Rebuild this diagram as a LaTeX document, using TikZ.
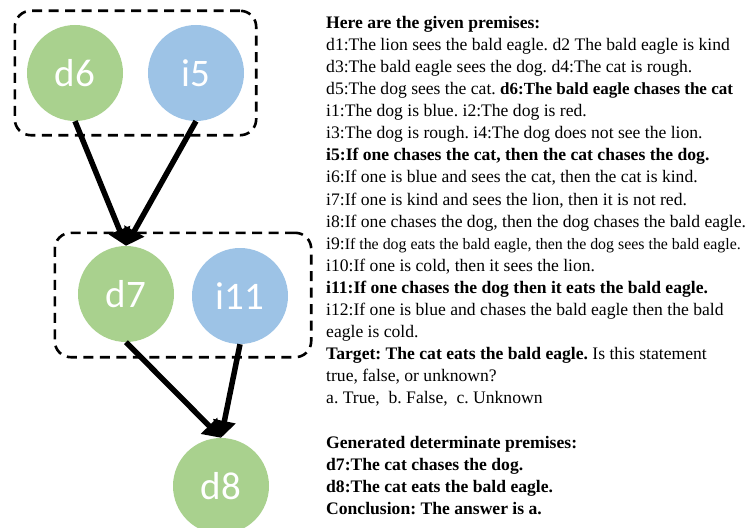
\documentclass[tikz,border=0pt]{standalone}
\usepackage{fontspec}
\setmainfont{Liberation Serif}
\newfontfamily\circfont{Carlito}
\usetikzlibrary{arrows.meta,positioning,fit,calc}
\definecolor{premGreen}{HTML}{A9D18E}
\definecolor{premBlue}{HTML}{9DC3E6}
\tikzset{
	prem/.style={circle,minimum size=96pt,inner sep=0pt,text=white,font=\circfont\fontsize{39}{39}\selectfont},
	detPrem/.style={prem,fill=premGreen},
	indPrem/.style={prem,fill=premBlue},
	group/.style={draw,line width=2.6pt,dash pattern=on 10pt off 6.5pt,rounded corners=16pt},
	infer/.style={line width=5.5pt,-{Triangle[length=17pt,width=22pt]}},
}

\begin{document}
\frenchspacing
\begin{tikzpicture}[x=1pt,y=-1pt]
	\useasboundingbox (0,0) rectangle (751,527);
	\node (d6) at (75,73) [detPrem] {d6};
	\node (i5) at (196,73) [indPrem] {i5};
	\node (d7) at (126,294) [detPrem] {d7};
	\node (i11) at (240,296) [indPrem] {i11};
	\node (d8) at (221,486) [detPrem] {d8};
	
	\node (g1) [group,fit=(d6)(i5),inner xsep=12pt,inner ysep=14pt] {};
	\node (g2) [group,fit=(d7)(i11),inner xsep=23pt,inner ysep=13pt] {};
	
	\draw[infer] (d6.south) -- (d7.north);
	\draw[infer] (i5.south) -- (d7.north);
	\draw[infer] (d7.south) -- (d8.north);
	\draw[infer] (i11.south) -- (d8.north);
	
	\node (txt) at (326,15.8) [anchor=north west,inner sep=0pt,align=left,font=\fontsize{17.6}{22.1}\selectfont] {%
		\textbf{Here are the given premises:}\\
		d1:The lion sees the bald eagle. d2 The bald eagle is kind\\
		d3:The bald eagle sees the dog. d4:The cat is rough.\\
		d5:The dog sees the cat. {\fontsize{17}{22.1}\selectfont\textbf{d6:The bald eagle chases the cat}}\\
		i1:The dog is blue. i2:The dog is red.\\
		i3:The dog is rough. i4:The dog does not see the lion.\\
		\textbf{i5:If one chases the cat, then the cat chases the dog.}\\
		i6:If one is blue and sees the cat, then the cat is kind.\\
		i7:If one is kind and sees the lion, then it is not red.\\
		i8:If one chases the dog, then the dog chases the bald eagle.\\
		i9:{\fontsize{15.9}{22.1}\selectfont If the dog eats the bald eagle, then the dog sees the bald eagle.}\\
		i10:If one is cold, then it sees the lion.\\
		\textbf{i11:If one chases the dog then it eats the bald eagle.}\\
		i12:If one is blue and chases the bald eagle then the bald\\
		eagle is cold.\\
		\textbf{Target: The cat eats the bald eagle.} Is this statement\\
		true, false, or unknown?\\
		a. True,\ \ b. False,\ \ c. Unknown\\
		\strut\\
		\textbf{Generated determinate premises:}\\
		\textbf{d7:The cat chases the dog.}\\
		\textbf{d8:The cat eats the bald eagle.}\\
		\textbf{Conclusion: The answer is a.}};
\end{tikzpicture}
\end{document}
